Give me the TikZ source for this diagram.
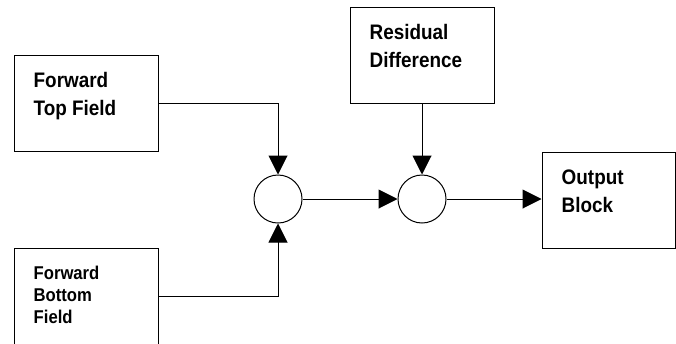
\documentclass[tikz,border=0pt]{standalone}
\usepackage{fontspec}
\setmainfont[FakeStretch=0.9]{Liberation Sans}
\usetikzlibrary{arrows.meta, positioning, calc}

\begin{document}
\begin{tikzpicture}[
				x=1pt, y=-1pt,
				>={Triangle[length=19pt, width=19pt]},
				block/.style={draw, line width=1pt, inner sep=0pt, minimum width=144pt, minimum height=96pt},
				blocktext/.style={anchor=north west, inner sep=0pt, align=left,
					font=\fontsize{21}{28}\selectfont\bfseries},
				adder/.style={draw, circle, line width=1pt, minimum size=48pt, inner sep=0pt},
				wire/.style={->, line width=1pt}
			]
				\useasboundingbox (0,0) rectangle (676,343);

				% field inputs
				\node[block] (ftf) at (86,103) {};
				\node[blocktext] (ftf-txt) at ([shift={(20,18)}]ftf.north west) {Forward\\Top Field};

				\node[block] (fbf) at (86,296) {};
				\node[blocktext, font=\fontsize{18.5}{22}\selectfont\bfseries]
					(fbf-txt) at ([shift={(20,18)}]fbf.north west) {Forward\\Bottom\\Field};

				% residual and output
				\node[block] (res) at (422,55) {};
				\node[blocktext] (res-txt) at ([shift={(20,18)}]res.north west) {Residual\\Difference};

				\node[block, minimum width=133pt] (out) at (608.5,200) {};
				\node[blocktext] (out-txt) at ([shift={(20,18)}]out.north west) {Output\\Block};

				% adders
				\node[adder] (sum1) at (278,199) {};
				\node[adder] (sum2) at (422,199) {};

				\draw[wire] (ftf.east) -| (sum1);
				\draw[wire] (fbf.east) -| (sum1);
				\draw[wire] (res.south) -- (sum2);
				\draw[wire] (sum1) -- (sum2);
				\draw[wire] (sum2.east) -- (sum2.east -| out.west);
			\end{tikzpicture}
\end{document}
